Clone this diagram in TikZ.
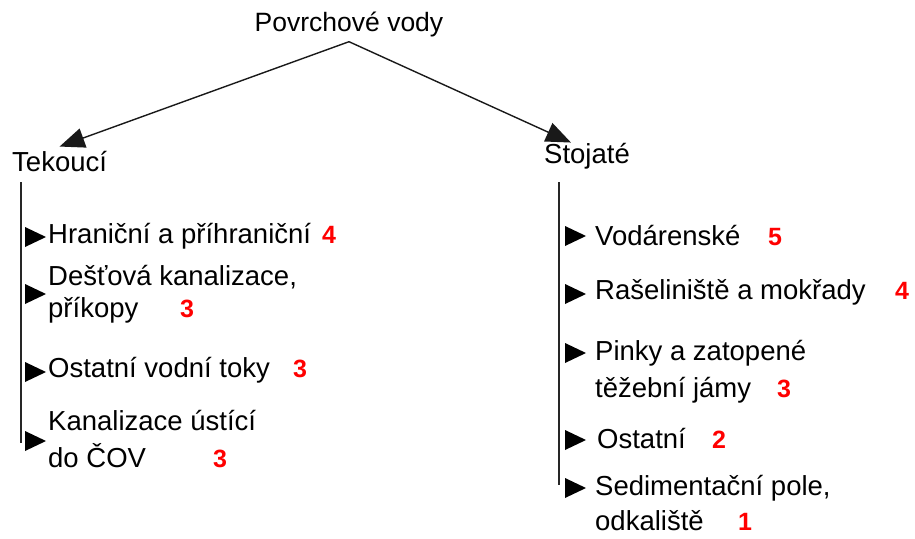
\documentclass[tikz,border=0pt]{standalone}
\usepackage{fontspec}
\setmainfont{Liberation Sans}
\usetikzlibrary{arrows.meta}

\tikzset{
  label text/.style={anchor=base west, inner sep=0pt, font=\fontsize{27.5}{32}\selectfont, text=black},
  title text/.style={anchor=base, inner sep=0pt, font=\fontsize{26.5}{32}\selectfont, text=black},
  grade/.style={anchor=base west, inner sep=0pt, font=\fontsize{25}{30}\selectfont\bfseries, text=red},
  branch arrow/.style={draw=black!90, line width=1.4pt, -{Triangle[length=25pt,width=20pt]}},
  bracket line/.style={draw=black!85, line width=1.3pt},
  bullet/.style={fill=black}
}

% filled bullet triangle pointing right, #1 = left x, #2 = centre y
\newcommand{\itembullet}[2]{\fill[bullet] (#1,#2-10) -- (#1+21,#2) -- (#1,#2+10) -- cycle;}

\begin{document}
\begin{tikzpicture}[x=1pt,y=-1pt]
\useasboundingbox (0,0) rectangle (915,538);

% root and the two branches
\node[title text] (root) at (349,31) {Povrchové vody};
\node[label text] (tek) at (12,171) {Tekoucí};
\node[label text] (sto) at (544,163) {Stojaté};

\draw[branch arrow] ([yshift=-5pt]root.south) -- ([yshift=4pt]tek.north);
\draw[branch arrow] ([yshift=-5pt]root.south) -- ([xshift=27pt]sto.north west);

% flowing waters
\coordinate (ltop) at (21,182);
\coordinate (lbot) at (21,443);
\draw[bracket line] (ltop) -- (lbot);

\node[label text] (l1) at (48,243) {Hraniční a příhraniční};
\node[grade] (n1) at (322,243) {4};
\node[label text] (l2a) at (48,285) {Dešťová kanalizace,};
\node[label text] (l2b) at (48,317) {příkopy};
\node[grade] (n2) at (180,317) {3};
\node[label text] (l3) at (48,377) {Ostatní vodní toky};
\node[grade] (n3) at (293,377) {3};
\node[label text] (l4a) at (48,430) {Kanalizace ústící};
\node[label text] (l4b) at (48,467) {do ČOV};
\node[grade] (n4) at (213,467) {3};

\itembullet{25}{237}
\itembullet{25}{294}
\itembullet{25}{372}
\itembullet{25}{441}

% standing waters
\coordinate (rtop) at (559,182);
\coordinate (rbot) at (559,485);
\draw[bracket line] (rtop) -- (rbot);

\node[label text] (r1) at (595,245) {Vodárenské};
\node[grade] (m1) at (768,245) {5};
\node[label text] (r2) at (595,299) {Rašeliniště a mokřady};
\node[grade] (m2) at (895,299) {4};
\node[label text] (r3a) at (595,360) {Pinky a zatopené};
\node[label text] (r3b) at (595,397) {těžební jámy};
\node[grade] (m3) at (777,397) {3};
\node[label text] (r4) at (597,448) {Ostatní};
\node[grade] (m4) at (712,448) {2};
\node[label text] (r5a) at (595,495) {Sedimentační pole,};
\node[label text] (r5b) at (595,530) {odkaliště};
\node[grade] (m5) at (738,530) {1};

\itembullet{565}{236}
\itembullet{565}{294}
\itembullet{565}{353}
\itembullet{565}{440}
\itembullet{565}{488}
\end{tikzpicture}
\end{document}
